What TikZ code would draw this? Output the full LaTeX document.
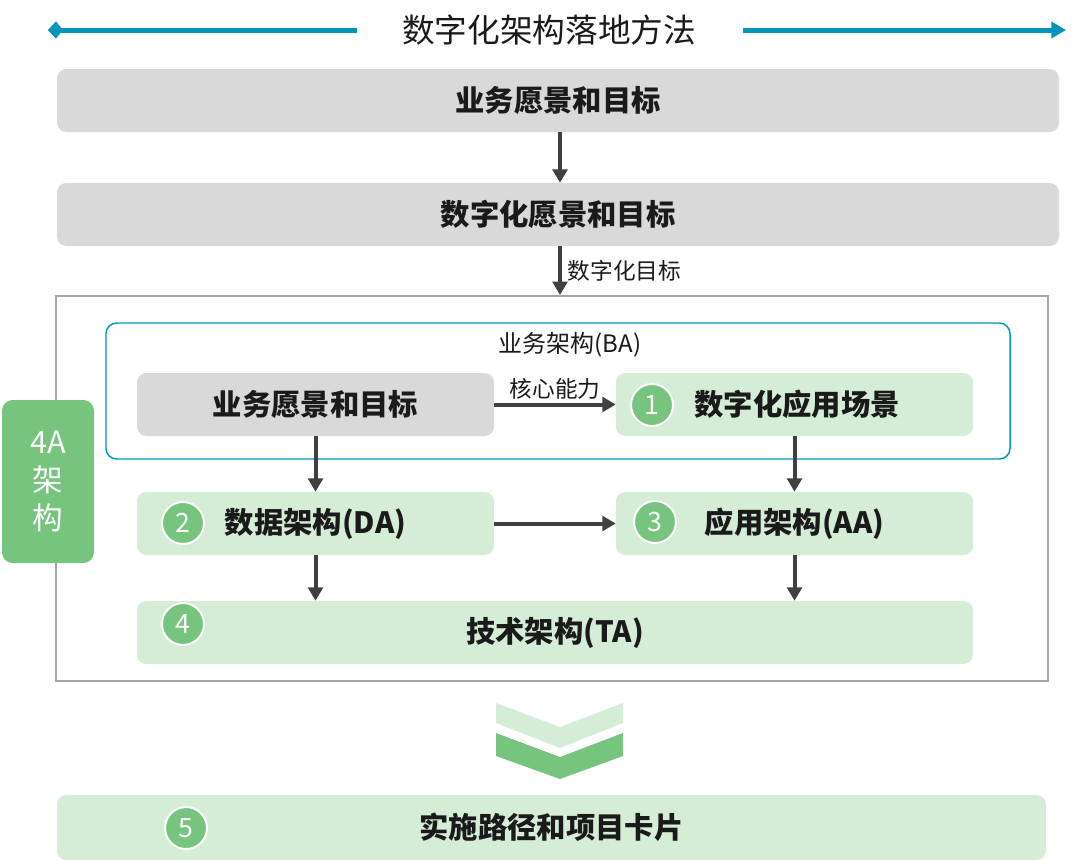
\documentclass[tikz,border=0pt]{standalone}
\usepackage{fontspec}
\setmainfont{Noto Sans CJK SC}
\usetikzlibrary{arrows.meta}

\definecolor{boxgray}{HTML}{D9D9D9}
\definecolor{boxgreen}{HTML}{D5ECD6}
\definecolor{markgreen}{HTML}{77C47E}
\definecolor{tealline}{HTML}{0096B9}
\definecolor{framegray}{HTML}{A6A6A6}
\definecolor{arrowgray}{HTML}{404040}
\definecolor{inkblack}{HTML}{1A1A1A}

\tikzset{
    box/.style={rounded corners=7pt, minimum height=47.25pt, inner sep=0pt,
        text=inkblack, font=\fontsize{22}{26}\selectfont\bfseries},
    graybox/.style={box, fill=boxgray},
    greenbox/.style={box, fill=boxgreen},
    numdot/.style={circle, fill=markgreen, draw=white, line width=1.5pt,
        minimum size=31.5pt, inner sep=0pt, text=white,
        font=\fontsize{20}{22}\selectfont},
    link/.style={draw=arrowgray, line width=3pt,
        -{Triangle[length=10pt,width=11pt]}},
    smalltext/.style={text=inkblack, font=\fontsize{17}{20}\selectfont},
}

\begin{document}
\begin{tikzpicture}[x=0.75pt, y=-0.75pt]
    \useasboundingbox (0, 0) rectangle (1080, 865);

    % title with arrows
    \node[text=inkblack, font=\fontsize{24.5}{28}\selectfont] (title) at (549, 30) {数字化架构落地方法};
    \coordinate (lstart) at (357, 30);
    \coordinate (lend) at (48, 30);
    \coordinate (rstart) at (743, 30);
    \coordinate (rend) at (1066, 30);
    \draw[tealline, line width=3.75pt, -{Kite[length=11pt,width=13pt,inset=5pt]}] (lstart) -- (lend);
    \draw[tealline, line width=3.75pt, -{Triangle[length=11pt,width=12pt]}] (rstart) -- (rend);

    \node[graybox, minimum width=751.5pt] (vision) at (558, 100.5) {业务愿景和目标};
    \node[graybox, minimum width=751.5pt] (digital) at (558, 214.5) {数字化愿景和目标};

    % 4A frame
    \node[draw=framegray, line width=1.5pt, minimum width=744pt, minimum height=288.75pt, inner sep=0pt] (frame) at (552, 488.5) {};
    \node[fill=markgreen, rounded corners=8pt, minimum width=69pt, minimum height=122.25pt, inner sep=0pt,
        text=white, align=center, font=\fontsize{23}{28.5}\selectfont] (fourA) at (48, 481.5) {4A\\架\\构};

    \node[draw=tealline, line width=1.1pt, rounded corners=8pt, minimum width=678pt, minimum height=102pt, inner sep=0pt] (ba) at (558, 391) {};
    \node[smalltext, font=\fontsize{18}{20}\selectfont] (batitle) at (570, 345) {业务架构(BA)};

    \node[graybox, minimum width=267.75pt] (bavision) at (315.5, 404.5) {业务愿景和目标};
    \node[greenbox, minimum width=267.75pt] (scene) at (794.5, 404.5) {\hspace*{4pt}数字化应用场景};
    \node[greenbox, minimum width=267.75pt] (da) at (315.5, 523.5) {数据架构(DA)};
    \node[greenbox, minimum width=267.75pt] (aa) at (794.5, 523.5) {应用架构(AA)};
    \node[greenbox, minimum width=627pt] (ta) at (555, 632.5) {技术架构(TA)};

    \node[numdot] (n1) at (652, 405) {1};
    \node[numdot] (n2) at (183, 523) {2};
    \node[numdot] (n3) at (655, 522) {3};
    \node[numdot] (n4) at (183, 624) {4};

    \draw[link] (vision.south -| 560, 0) -- (digital.north -| 560, 0);
    \draw[link] (digital.south -| 560, 0) -- (frame.north -| 560, 0)
        node[midway, right, smalltext, xshift=1pt] {数字化目标};
    \draw[link] (bavision.east) -- (scene.west)
        node[midway, above, smalltext, yshift=-1pt] {核心能力};
    \draw[link] (bavision.south) -- (da.north);
    \draw[link] (scene.south) -- (aa.north);
    \draw[link] (da.east) -- (aa.west);
    \draw[link] (da.south) -- (da.south |- ta.north);
    \draw[link] (aa.south) -- (aa.south |- ta.north);

    % chevrons
    \fill[boxgreen] (496, 703) -- (560, 727) -- (623, 703) -- (623, 723) -- (560, 748) -- (496, 723) -- cycle;
    \fill[markgreen] (496, 733) -- (560, 757) -- (623, 733) -- (623, 756) -- (560, 779) -- (496, 756) -- cycle;

    \node[greenbox, minimum width=741.75pt, minimum height=48.75pt] (plan) at (551.5, 827.5) {实施路径和项目卡片};
    \node[numdot] (n5) at (186, 828) {5};
\end{tikzpicture}
\end{document}
